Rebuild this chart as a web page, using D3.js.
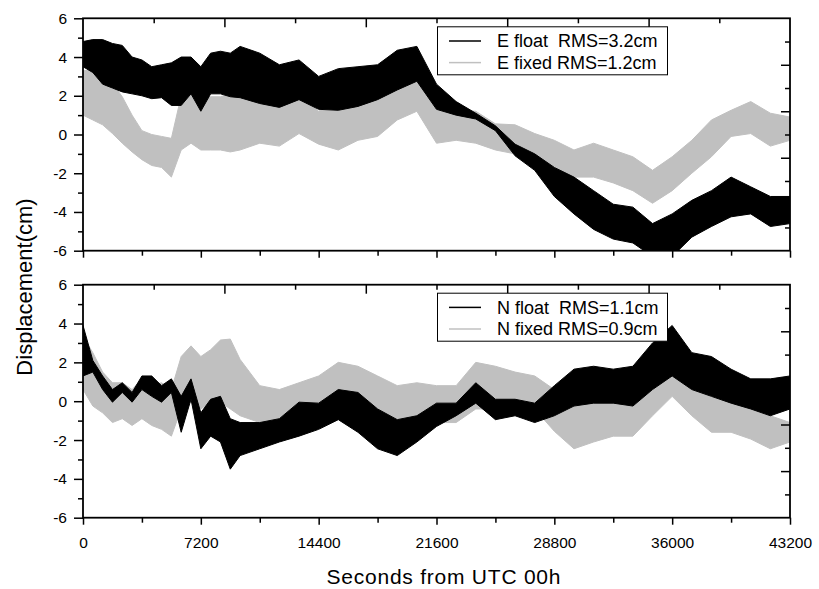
<!DOCTYPE html>
<html>
<head>
<meta charset="utf-8">
<title>E / N displacement</title>
<script src="https://cdn.jsdelivr.net/npm/d3@7"></script>
<style>
body{margin:0;background:#fff;}
text{font-family:"Liberation Sans",Arial,sans-serif;fill:#000;}
</style>
</head>
<body>
<script>
// time grid (s): 600 s steps up to 9600, then 1200 s
var seconds = [0,600,1200,1800,2400,3000,3600,4200,4800,5400,6000,6600,7200,7800,8400,9000,9600,
	10800,12000,13200,14400,15600,16800,18000,19200,20400,21600,22800,24000,25200,26400,27600,28800,
	30000,31200,32400,33600,34800,36000,37200,38400,39600,40800,42000,43200];

// upper / lower edge of each noisy trace (cm)
var eFloatHi = [4.8,4.9,4.9,4.7,4.6,4.0,3.85,3.5,3.6,3.7,4.0,4.0,3.5,4.2,4.3,4.2,4.55,
	4.2,3.6,3.85,3.0,3.4,3.5,3.6,4.35,4.55,2.6,1.7,1.1,0.45,-0.5,-1.0,-1.7,
	-2.2,-2.9,-3.6,-3.75,-4.6,-4.1,-3.4,-2.9,-2.2,-2.7,-3.2,-3.2];
var eFloatLo = [3.5,3.2,2.6,2.4,2.2,2.1,2.0,1.85,1.9,1.5,1.5,2.1,1.2,2.1,2.1,1.95,1.9,
	1.6,1.4,1.8,1.3,1.25,1.45,1.8,2.3,2.75,1.3,1.0,0.8,0.2,-1.1,-1.85,-3.2,
	-4.1,-4.9,-5.4,-5.6,-6.3,-6.3,-5.3,-4.75,-4.25,-4.1,-4.75,-4.6];
var eFixedHi = [3.3,3.3,2.9,2.65,1.95,1.0,0.2,0.0,-0.1,-0.2,2.0,2.1,1.85,1.95,1.95,2.1,2.2,
	2.1,1.85,2.1,1.2,1.8,1.95,2.1,2.8,3.5,1.8,1.25,1.2,0.55,0.5,0.05,-0.3,
	-0.8,-0.45,-0.8,-1.15,-1.85,-1.15,-0.3,0.75,1.25,1.7,1.1,0.9];
var eFixedLo = [1.0,0.75,0.5,0.05,-0.45,-0.9,-1.3,-1.6,-1.7,-2.2,-0.8,-0.45,-0.8,-0.8,-0.8,-0.9,-0.8,
	-0.45,-0.6,0.05,-0.5,-0.8,-0.3,-0.1,0.75,1.2,-0.45,-0.3,-0.45,-0.8,-1.0,-1.3,-1.66,
	-2.2,-2.2,-2.5,-2.9,-3.55,-2.9,-2.0,-1.15,-0.1,0.05,-0.6,-0.3];

var nFloatHi = [3.9,2.1,1.3,0.6,0.95,0.45,1.3,1.3,0.8,1.15,0.25,1.15,-0.6,0.1,0.25,-0.9,-1.1,
	-1.1,-0.9,-0.05,-0.1,0.6,0.45,-0.4,-0.95,-0.75,-0.1,-0.1,0.95,0.1,0.1,-0.1,0.8,
	1.65,1.8,1.65,1.8,3.0,3.9,2.5,2.3,1.65,1.15,1.15,1.3];
var nFloatLo = [1.3,1.5,0.6,-0.05,0.45,-0.05,0.6,0.25,-0.05,0.45,-1.6,0.1,-2.45,-1.8,-2.1,-3.5,-2.8,
	-2.45,-2.1,-1.8,-1.45,-0.95,-1.6,-2.45,-2.8,-2.1,-1.3,-0.75,-0.1,-0.95,-0.75,-1.1,-0.75,
	-0.25,-0.1,-0.1,-0.25,0.6,1.3,0.6,0.25,-0.1,-0.4,-0.75,-0.4];
var nFixedHi = [3.35,2.5,1.5,0.95,0.95,0.6,1.15,0.8,0.95,0.6,2.3,2.85,2.3,2.65,3.15,3.2,2.15,
	0.8,0.6,0.95,1.3,2.0,1.8,1.3,0.8,0.95,0.8,0.8,2.0,1.8,1.5,1.3,0.6,
	0.3,0.3,0.25,0.6,1.3,2.65,1.3,0.45,-0.1,-0.4,-0.75,-1.1];
var nFixedLo = [0.6,-0.25,-0.6,-1.1,-0.9,-1.25,-0.9,-1.25,-1.45,-1.8,-0.4,-0.05,-0.4,-0.05,-0.05,-0.4,-0.75,
	-1.1,-0.9,-0.4,-0.3,0.25,-0.1,-0.75,-1.45,-0.95,-1.1,-1.1,-0.4,-0.4,-0.1,-0.4,-1.55,
	-2.45,-2.1,-1.8,-1.8,-0.75,0.25,-0.75,-1.6,-1.6,-1.95,-2.45,-2.1];

var yTicks = [-6,-4,-2,0,2,4,6];
var xTicks = [0,7200,14400,21600,28800,36000,43200];
var legendE = ["E float  RMS=3.2cm","E fixed RMS=1.2cm"];
var legendN = ["N float  RMS=1.1cm","N fixed RMS=0.9cm"];

var width = 819, height = 589;
var left = 83, right = 790;
var black = "#000", grey = "#c0c0c0";
var plain = function(d){return String(d);}; // hyphen minus like the original

var svg = d3.select("body").append("svg").attr("width",width).attr("height",height);
var x = d3.scaleLinear().domain([0,43200]).range([left,right]);

function panel(top, bottom, id, floatHi, floatLo, fixedHi, fixedLo, legend, labels) {
	var y = d3.scaleLinear().domain([-6,6]).range([bottom,top]);
	var g = svg.append("g");

	g.append("clipPath").attr("id","clip"+id)
		.append("rect").attr("x",left).attr("y",top).attr("width",right-left).attr("height",bottom-top);

	function band(hi, lo) {
		return d3.area()
			.x(function(d,i){return x(seconds[i]);})
			.y0(function(d,i){return y(lo[i]);})
			.y1(function(d,i){return y(hi[i]);})(seconds);
	}
	var plot = g.append("g").attr("clip-path","url(#clip"+id+")");
	plot.append("path").attr("d",band(fixedHi,fixedLo)).attr("fill",grey).attr("stroke",grey).attr("stroke-width",1);
	plot.append("path").attr("d",band(floatHi,floatLo)).attr("fill",black).attr("stroke",black).attr("stroke-width",1);

	// left axis: labelled majors + minor ticks, both outward
	g.append("g").attr("transform","translate("+left+",0)")
		.call(d3.axisLeft(y).tickValues(yTicks).tickSize(9).tickPadding(7).tickFormat(plain));
	g.append("g").attr("transform","translate("+left+",0)")
		.call(d3.axisLeft(y).tickValues([-5,-3,-1,1,3,5]).tickSize(5).tickFormat(""));

	// bottom axis
	g.append("g").attr("transform","translate(0,"+bottom+")")
		.call(d3.axisBottom(x).tickValues(xTicks).tickSize(7).tickPadding(12).tickFormat(labels ? plain : ""));
	g.append("g").attr("transform","translate(0,"+bottom+")")
		.call(d3.axisBottom(x).tickValues([3600,10800,18000,25200,32400,39600]).tickSize(5).tickFormat(""));

	// top and right axes: 10 divisions, ticks pointing in
	var topMajor = [8640,17280,25920,34560], topMinor = [4320,12960,21600,30240,38880];
	g.append("g").attr("transform","translate(0,"+top+")")
		.call(d3.axisTop(x).tickValues(topMajor).tickSize(-9).tickFormat(""));
	g.append("g").attr("transform","translate(0,"+top+")")
		.call(d3.axisTop(x).tickValues(topMinor).tickSize(-5).tickFormat(""));
	g.append("g").attr("transform","translate("+right+",0)")
		.call(d3.axisRight(y).tickValues([3.6,1.2,-1.2,-3.6]).tickSize(-9).tickFormat(""));
	g.append("g").attr("transform","translate("+right+",0)")
		.call(d3.axisRight(y).tickValues([4.8,2.4,0,-2.4,-4.8]).tickSize(-5).tickFormat(""));

	g.selectAll(".domain").remove();
	g.selectAll(".tick line").attr("stroke",black).attr("stroke-width",1.5);
	g.selectAll(".tick text").attr("font-size",15.5).attr("font-family","'Liberation Sans',Arial,sans-serif");

	g.append("rect").attr("x",left).attr("y",top).attr("width",right-left).attr("height",bottom-top)
		.attr("fill","none").attr("stroke",black).attr("stroke-width",1.8);

	// legend
	var lx = 437.5, ly = top + 8.5;
	var lg = g.append("g").attr("transform","translate("+lx+","+ly+")");
	lg.append("rect").attr("width",230).attr("height",48).attr("fill","#fff").attr("stroke",black).attr("stroke-width",1);
	var rows = lg.selectAll("g.row").data(legend).enter().append("g")
		.attr("transform",function(d,i){return "translate(0,"+(i*21.6)+")";});
	rows.append("line").attr("x1",11.5).attr("x2",43.5).attr("y1",14.2).attr("y2",14.2)
		.attr("stroke",function(d,i){return i ? grey : black;}).attr("stroke-width",1.5);
	rows.append("text").attr("x",59.5).attr("y",20.5).attr("font-size",18)
		.style("white-space","pre").text(function(d){return d;});
}

panel(18.3, 250.7, "e", eFloatHi, eFloatLo, eFixedHi, eFixedLo, legendE, false);
panel(284.7, 517.7, "n", nFloatHi, nFloatLo, nFixedHi, nFixedLo, legendN, true);

svg.append("text").attr("transform","translate(32,287) rotate(-90)")
	.attr("text-anchor","middle").attr("font-size",22).text("Displacement(cm)");
svg.append("text").attr("x",(left+right)/2 + 7).attr("y",584)
	.attr("text-anchor","middle").attr("font-size",21).attr("textLength",234).attr("lengthAdjust","spacing")
	.text("Seconds from UTC 00h");
</script>
</body>
</html>
